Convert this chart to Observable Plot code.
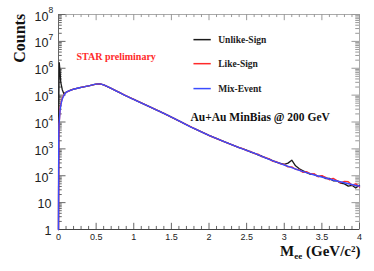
<!DOCTYPE html>
<html>
<head>
<meta charset="utf-8">
<script src="https://cdn.jsdelivr.net/npm/d3@7"></script>
<script src="https://cdn.jsdelivr.net/npm/@observablehq/plot@0.6"></script>
<style>
  html, body { margin: 0; padding: 0; background: white; }
</style>
</head>
<body>
<div id="chart"></div>
<script>
// ---- Data ----
const mixMass = [0, 0.003, 0.006, 0.01, 0.02, 0.03, 0.05, 0.075, 0.1, 0.15, 0.2, 0.3, 0.4, 0.5, 0.55, 0.6, 0.7, 0.8, 0.9, 1.0, 1.2, 1.4, 1.6, 1.8, 2.0, 2.2, 2.4, 2.6, 2.8, 3.0, 3.2, 3.4, 3.6, 3.8, 4.0];
const mixEvent = [1, 2000, 8000, 1.0e4, 2.5e4, 4.0e4, 7.0e4, 1.0e5, 1.25e5, 1.48e5, 1.66e5, 1.95e5, 2.2e5, 2.57e5, 2.63e5, 2.4e5, 1.78e5, 1.29e5, 9.3e4, 6.9e4, 3.8e4, 2.1e4, 1.1e4, 5750, 3160, 1860, 1120, 692, 407, 251, 158, 107, 76, 55, 41];

const likeMass = [0, 0.003, 0.006, 0.01, 0.02, 0.03, 0.05, 0.075, 0.1, 0.15, 0.2, 0.3, 0.4, 0.5, 0.55, 0.6, 0.7, 0.8, 0.9, 1.0, 1.2, 1.4, 1.6, 1.8, 2.0, 2.2, 2.4,
  2.45, 2.5, 2.55, 2.6, 2.65, 2.7, 2.75, 2.8, 2.85, 2.9, 2.95, 3.0, 3.05, 3.1, 3.15, 3.2, 3.25, 3.3, 3.35, 3.4, 3.45, 3.5, 3.55, 3.6, 3.65, 3.7, 3.75, 3.8, 3.85, 3.9, 3.95, 4.0];
const likeSign = [1, 1500, 6000, 1.0e4, 2.8e4, 4.5e4, 7.8e4, 1.05e5, 1.27e5, 1.48e5, 1.66e5, 1.95e5, 2.2e5, 2.56e5, 2.62e5, 2.4e5, 1.78e5, 1.29e5, 9.3e4, 6.9e4, 3.8e4, 2.1e4, 1.1e4, 5800, 3150, 1870, 1110,
  1019, 861, 809, 676, 635, 513, 476, 427, 345, 331, 277, 263, 214, 214, 174, 166, 134, 141, 118, 117, 92, 101, 87, 71, 80, 66, 54, 62, 60, 45, 50, 38];

const unlikeMass = [0, 0.005, 0.01, 0.02, 0.03, 0.04, 0.05, 0.07, 0.1, 0.15, 0.2, 0.3, 0.4, 0.5, 0.55, 0.6, 0.7, 0.8, 0.9, 1.0, 1.2, 1.4, 1.6, 1.8, 2.0, 2.2, 2.4,
  2.45, 2.5, 2.55, 2.6, 2.65, 2.7, 2.75, 2.8, 2.85, 2.9, 2.95, 3.0, 3.05, 3.1, 3.15, 3.2, 3.25, 3.3, 3.35, 3.4, 3.45, 3.5, 3.55, 3.6, 3.65, 3.7, 3.75, 3.8, 3.85, 3.9, 3.95, 4.0];
const unlikeSign = [1, 1.0e5, 1.6e6, 8.0e5, 3.0e5, 2.2e5, 1.6e5, 1.15e5, 1.28e5, 1.49e5, 1.67e5, 1.95e5, 2.2e5, 2.57e5, 2.63e5, 2.4e5, 1.78e5, 1.29e5, 9.3e4, 6.9e4, 3.8e4, 2.1e4, 1.1e4, 5750, 3160, 1860, 1120,
  995, 901, 762, 700, 593, 543, 460, 417, 361, 313, 289, 263, 295, 380, 234, 182, 154, 130, 113, 112, 94, 97, 79, 80, 65, 66, 53, 50, 41, 44, 35, 44];

const xTicks = [0, 0.5, 1, 1.5, 2, 2.5, 3, 3.5, 4];
const xTickLabels = ["0", "0.5", "1", "1.5", "2", "2.5", "3", "3.5", "4"];
const yTicks = [1, 10, 1e2, 1e3, 1e4, 1e5, 1e6, 1e7, 1e8];
const yTickBase = ["1", "10", "10", "10", "10", "10", "10", "10", "10"];
const yTickExp = ["", "", "2", "3", "4", "5", "6", "7", "8"];

const seriesNames = ["Unlike-Sign", "Like-Sign", "Mix-Event"];
const seriesColors = ["#1a1a1a", "#ff2a2a", "#3a4cff"];
// legend entries (positioned in the chart's data space)
const legendY = [1.16e7, 1.48e6, 1.75e5];
const legendX1 = 1.8, legendX2 = 2.03;
const yTitleAt = 1.3e7;

// ---- Derived tables ----
const mix = mixMass.map((m, i) => ({m, v: mixEvent[i]}));
const like = likeMass.map((m, i) => ({m, v: likeSign[i]}));
const unlike = unlikeMass.map((m, i) => ({m, v: unlikeSign[i]}));

const xMinor = d3.range(0, 41).map(i => i / 10).filter(v => !xTicks.some(t => Math.abs(t - v) < 1e-9));
const yMinor = [];
for (let d = 0; d < 8; d++) for (let k = 2; k <= 9; k++) yMinor.push(k * Math.pow(10, d));
const yLab = yTicks.map((v, i) => ({v, base: yTickBase[i], exp: yTickExp[i]}));
const xLab = xTicks.map((v, i) => ({v, label: xTickLabels[i]}));
const legend = seriesNames.map((n, i) => ({name: n, color: seriesColors[i], y: legendY[i]}));

const serif = "Liberation Serif, Times New Roman, serif";
const tickC = "#666";

const chart = Plot.plot({
  width: 374,
  height: 271,
  marginLeft: 58,
  marginRight: 15,
  marginTop: 14,
  marginBottom: 42,
  x: {domain: [0, 4], axis: null},
  y: {type: "log", domain: [1, 1e8], axis: null},
  style: {fontFamily: "Liberation Sans, Arial, sans-serif", background: "white", overflow: "visible"},
  marks: [
    Plot.frame({stroke: "#aaa"}),
    // bottom / top x ticks
    Plot.ruleX(xTicks, {y1: 1, y2: 1.7, stroke: tickC}),
    Plot.ruleX(xMinor, {y1: 1, y2: 1.3, stroke: tickC}),
    Plot.ruleX(xTicks, {y1: 1e8, y2: 1e8 / 1.7, stroke: "#999"}),
    Plot.ruleX(xMinor, {y1: 1e8, y2: 1e8 / 1.3, stroke: "#999"}),
    // left / right y ticks
    Plot.ruleY(yTicks, {x1: 0, x2: 0.1, stroke: tickC}),
    Plot.ruleY(yMinor, {x1: 0, x2: 0.05, stroke: tickC}),
    Plot.ruleY(yTicks, {x1: 4, x2: 3.9, stroke: "#999"}),
    Plot.ruleY(yMinor, {x1: 4, x2: 3.95, stroke: "#999"}),
    Plot.ruleX([0], {stroke: "#666"}),
    Plot.ruleY([1], {stroke: "#444"}),
    // data
    Plot.line(unlike, {x: "m", y: "v", stroke: seriesColors[0], strokeWidth: 1.3}),
    Plot.line(like, {x: "m", y: "v", stroke: seriesColors[1], strokeWidth: 1.4}),
    Plot.line(mix, {x: "m", y: "v", stroke: seriesColors[2], strokeWidth: 1.4, curve: "monotone-x"}),
    // y tick labels
    Plot.text(yLab.filter(d => d.exp === ""), {x: 0, y: "v", text: "base", textAnchor: "end", dx: -7, dy: 1, fontSize: 12.5, fill: "#222"}),
    Plot.text(yLab.filter(d => d.exp !== ""), {x: 0, y: "v", text: "base", textAnchor: "end", dx: -10, dy: 2, fontSize: 12.5, fill: "#222"}),
    Plot.text(yLab.filter(d => d.exp !== ""), {x: 0, y: "v", text: "exp", textAnchor: "start", dx: -10, dy: -4, fontSize: 8.5, fill: "#222"}),
    // x tick labels
    Plot.text(xLab, {x: "v", y: 1, text: "label", dy: 8, fontSize: 9, fill: "#222"}),
    // axis titles
    Plot.text(["Counts"], {x: 0, y: yTitleAt, dx: -39, rotate: -90, fontSize: 16, fontWeight: "bold", fontFamily: serif, fill: "#111"}),
    Plot.text(["M_ee (GeV/c²)"], {frameAnchor: "bottom-right", textAnchor: "end", dx: 1, dy: 26, fontSize: 15, fontWeight: "bold", fontFamily: serif, fill: "#111"}),
    // annotations
    Plot.text(["STAR preliminary"], {frameAnchor: "top-left", textAnchor: "start", dx: 18, dy: 38, fontSize: 10, fontWeight: "bold", fontFamily: serif, fill: "#ff2a2a"}),
    Plot.text(["Au+Au MinBias @ 200 GeV"], {frameAnchor: "top-left", textAnchor: "start", dx: 132, dy: 98, fontSize: 11.5, fontWeight: "bold", fontFamily: serif, fill: "#111"}),
    // legend
    Plot.ruleY(legend, {y: "y", x1: legendX1, x2: legendX2, stroke: "color", strokeWidth: 1.5}),
    Plot.text(legend, {x: legendX2, y: "y", text: "name", textAnchor: "start", dx: 7, fontSize: 9.5, fontWeight: "bold", fontFamily: serif, fill: "#222"})
  ]
});

// subscript for the x-axis title
d3.select(chart).selectAll("text").filter(function () { return this.textContent === "M_ee (GeV/c²)"; })
  .each(function () {
    const t = d3.select(this);
    t.text(null);
    t.append("tspan").text("M");
    t.append("tspan").attr("font-size", 9).attr("dy", 3).text("ee");
    t.append("tspan").attr("dy", -3).text(" (GeV/c²)");
  });

document.getElementById("chart").appendChild(chart);
</script>
</body>
</html>
